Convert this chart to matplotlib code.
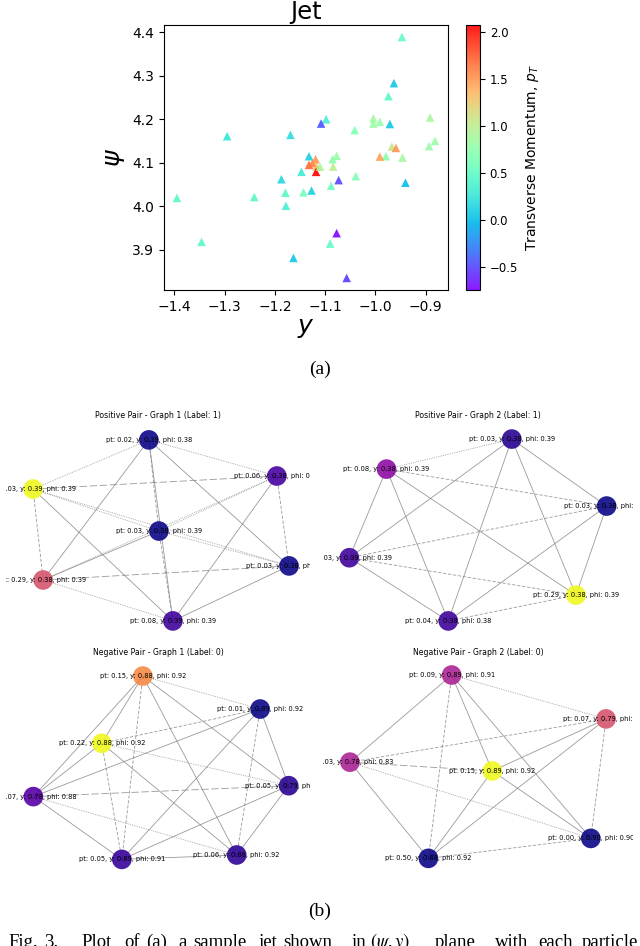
import numpy as np
import matplotlib
matplotlib.use('Agg')
import matplotlib.pyplot as plt
from itertools import combinations

W, H = 640, 946

#%% Data
#-----------------------------------------------------------------------------------------------------------------------
# jet particles: rapidity y, azimuth psi, transverse momentum
jet_y = [-0.947, -0.963, -0.974, -1.004, -1.004, -0.991, -0.971, -0.891, -0.881, -0.893,
         -0.967, -0.959, -0.979, -0.991, -0.946, -0.940, -1.098, -1.108, -1.041, -1.295,
         -1.169, -1.132, -1.132, -1.125, -1.119, -1.117, -1.118, -1.110, -1.085, -1.077,
         -1.084, -1.147, -1.073, -1.039, -1.187, -1.088, -1.143, -1.127, -1.179, -1.241,
         -1.395, -1.178, -1.077, -1.090, -1.346, -1.163, -1.057]
jet_psi = [4.389, 4.283, 4.253, 4.202, 4.190, 4.194, 4.189, 4.204, 4.150, 4.138,
           4.137, 4.134, 4.115, 4.114, 4.112, 4.054, 4.200, 4.190, 4.175, 4.161,
           4.164, 4.115, 4.095, 4.099, 4.108, 4.091, 4.079, 4.091, 4.108, 4.116,
           4.091, 4.079, 4.060, 4.069, 4.062, 4.047, 4.032, 4.036, 4.031, 4.021,
           4.019, 4.001, 3.938, 3.914, 3.918, 3.881, 3.835]
jet_pt = [0.50, 0.05, 0.45, 0.85, 0.80, 0.80, 0.05, 0.90, 0.80, 0.80,
          1.05, 1.50, 0.70, 1.45, 0.85, 0.00, 0.35, -0.45, 0.65, 0.25,
          0.20, 0.10, 1.70, 1.60, 1.50, 1.30, 2.07, 0.90, 0.70, 0.80,
          1.00, 0.30, -0.50, 0.65, 0.15, 0.55, 0.60, 0.10, 0.45, 0.45,
          0.45, 0.35, -0.75, 0.50, 0.45, 0.05, -0.55]

# graph pairs: node layout, colour value, node text, edge style per pair (s solid, d dashed, o dotted, l long dash)
titles = ['Positive Pair - Graph 1 (Label: 1)', 'Positive Pair - Graph 2 (Label: 1)',
          'Negative Pair - Graph 1 (Label: 0)', 'Negative Pair - Graph 2 (Label: 0)']
pos_x = [[0.470, 0.891, 0.089, 0.503, 0.931, 0.122, 0.549],
         [0.609, 0.205, 0.915, 0.085, 0.816, 0.404],
         [0.450, 0.836, 0.315, 0.930, 0.090, 0.381, 0.759],
         [0.415, 0.913, 0.087, 0.546, 0.864, 0.340]]
pos_y = [[0.929, 0.757, 0.695, 0.495, 0.329, 0.262, 0.067],
         [0.933, 0.790, 0.614, 0.368, 0.190, 0.067],
         [0.933, 0.776, 0.613, 0.411, 0.359, 0.060, 0.081],
         [0.938, 0.729, 0.523, 0.481, 0.160, 0.065]]
node_val = [[0.0, 0.12, 1.0, 0.0, 0.0, 0.55, 0.10],
            [0.05, 0.30, 0.0, 0.10, 1.0, 0.10],
            [0.72, 0.0, 1.0, 0.05, 0.15, 0.08, 0.06],
            [0.38, 0.55, 0.38, 1.0, 0.0, 0.0]]
node_txt = [['pt: 0.02, y: 0.39, phi: 0.38', 'pt: 0.06, y: 0.38, phi: 0.38', 'pt: 0.03, y: 0.39, phi: 0.39',
             'pt: 0.03, y: 0.38, phi: 0.39', 'pt: 0.03, y: 0.38, phi: 0.38', 'pt: 0.29, y: 0.38, phi: 0.39',
             'pt: 0.08, y: 0.39, phi: 0.39'],
            ['pt: 0.03, y: 0.38, phi: 0.39', 'pt: 0.08, y: 0.38, phi: 0.39', 'pt: 0.03, y: 0.38, phi: 0.38',
             'pt: 0.03, y: 0.39, phi: 0.39', 'pt: 0.29, y: 0.38, phi: 0.39', 'pt: 0.04, y: 0.38, phi: 0.38'],
            ['pt: 0.15, y: 0.88, phi: 0.92', 'pt: 0.01, y: 0.89, phi: 0.92', 'pt: 0.22, y: 0.88, phi: 0.92',
             'pt: 0.05, y: 0.79, phi: 0.88', 'pt: 0.07, y: 0.78, phi: 0.88', 'pt: 0.05, y: 0.89, phi: 0.91',
             'pt: 0.06, y: 0.88, phi: 0.92'],
            ['pt: 0.09, y: 0.89, phi: 0.91', 'pt: 0.07, y: 0.79, phi: 0.88', 'pt: 0.03, y: 0.78, phi: 0.83',
             'pt: 0.15, y: 0.89, phi: 0.92', 'pt: 0.00, y: 0.90, phi: 0.90', 'pt: 0.50, y: 0.88, phi: 0.92']]
edge_style = ['oodsss lodos oods osd ls o',
              'ossss dsss dss ds d',
              'osssds dsssd osds lss so s',
              'osssd dsds los ss d']

# caption words (justified line, cut at the bottom of the page)
caption_words = ['Fig.', '3.', 'Plot', 'of', '(a)', 'a', 'sample', 'jet', 'shown', 'in',
                 r'$(\psi, y)$', 'plane', 'with', 'each', 'particle']
caption_x = [8, 44, 81, 124, 146, 178, 193, 258, 283, 352, 370, 435, 495, 538, 582]

#%% Helpers
#-----------------------------------------------------------------------------------------------------------------------
def px_box(x0, y0, x1, y1):
    return [x0/W, 1 - y1/H, (x1 - x0)/W, (y1 - y0)/H]

LS = {'s': '-', 'd': (0, (4, 2)), 'o': (0, (1, 1.2)), 'l': (0, (9, 3))}

def draw_graph(ax, k):
    xs, ys = pos_x[k], pos_y[k]
    codes = edge_style[k].replace(' ', '')
    for (i, j), c in zip(combinations(range(len(xs)), 2), codes):
        ax.plot([xs[i], xs[j]], [ys[i], ys[j]], color='gray', lw=0.6, alpha=0.8,
                linestyle=LS[c], zorder=1)
    ax.scatter(xs, ys, s=200, c=node_val[k], cmap='plasma', vmin=0, vmax=1,
               alpha=0.9, edgecolors='none', zorder=2)
    for x, y, t in zip(xs, ys, node_txt[k]):
        ax.text(x, y, t, fontsize=4.8, ha='center', va='center', clip_on=True, zorder=3)
    ax.set_xlim(0, 1)
    ax.set_ylim(0, 1)
    ax.axis('off')
    ax.set_title(titles[k], fontsize=5.6, pad=5)

#%% Plotting
#-----------------------------------------------------------------------------------------------------------------------
fig = plt.figure(figsize=(W/100, H/100), dpi=100)

ax = fig.add_axes(px_box(164, 25, 448, 290))
sc = ax.scatter(jet_y, jet_psi, c=jet_pt, cmap='rainbow', marker='^', s=38,
                edgecolors='none', alpha=0.9)
ax.set_xticks([-1.4, -1.3, -1.2, -1.1, -1.0, -0.9])
ax.set_yticks([3.9, 4.0, 4.1, 4.2, 4.3, 4.4])
ax.tick_params(labelsize=10)
ax.set_xlabel('$y$', fontsize=18, labelpad=2)
ax.set_ylabel(r'$\psi$', fontsize=18, labelpad=4)
ax.set_title('Jet', fontsize=17.5, pad=4)

cax = fig.add_axes(px_box(466, 25, 480, 290))
cb = fig.colorbar(sc, cax=cax)
cb.ax.tick_params(labelsize=8.5)
cb.set_label('Transverse Momentum, $p_T$', fontsize=10)

boxes = [px_box(6, 425, 310, 635), px_box(323, 425, 633, 635),
         px_box(6, 662, 310, 872), px_box(323, 662, 633, 872)]
for k, b in enumerate(boxes):
    draw_graph(fig.add_axes(b), k)

fig.text(0.5, 1 - 369/H, '(a)', fontsize=14, family='Liberation Serif', ha='center', va='center')
fig.text(0.5, 1 - 911/H, '(b)', fontsize=14, family='Liberation Serif', ha='center', va='center')
for x, w in zip(caption_x, caption_words):
    fig.text(x/W, 1 - 947/H, w, fontsize=13.5, family='Liberation Serif', math_fontfamily='stix',
             ha='left', va='baseline')

fig.savefig('out.png', dpi=100)
